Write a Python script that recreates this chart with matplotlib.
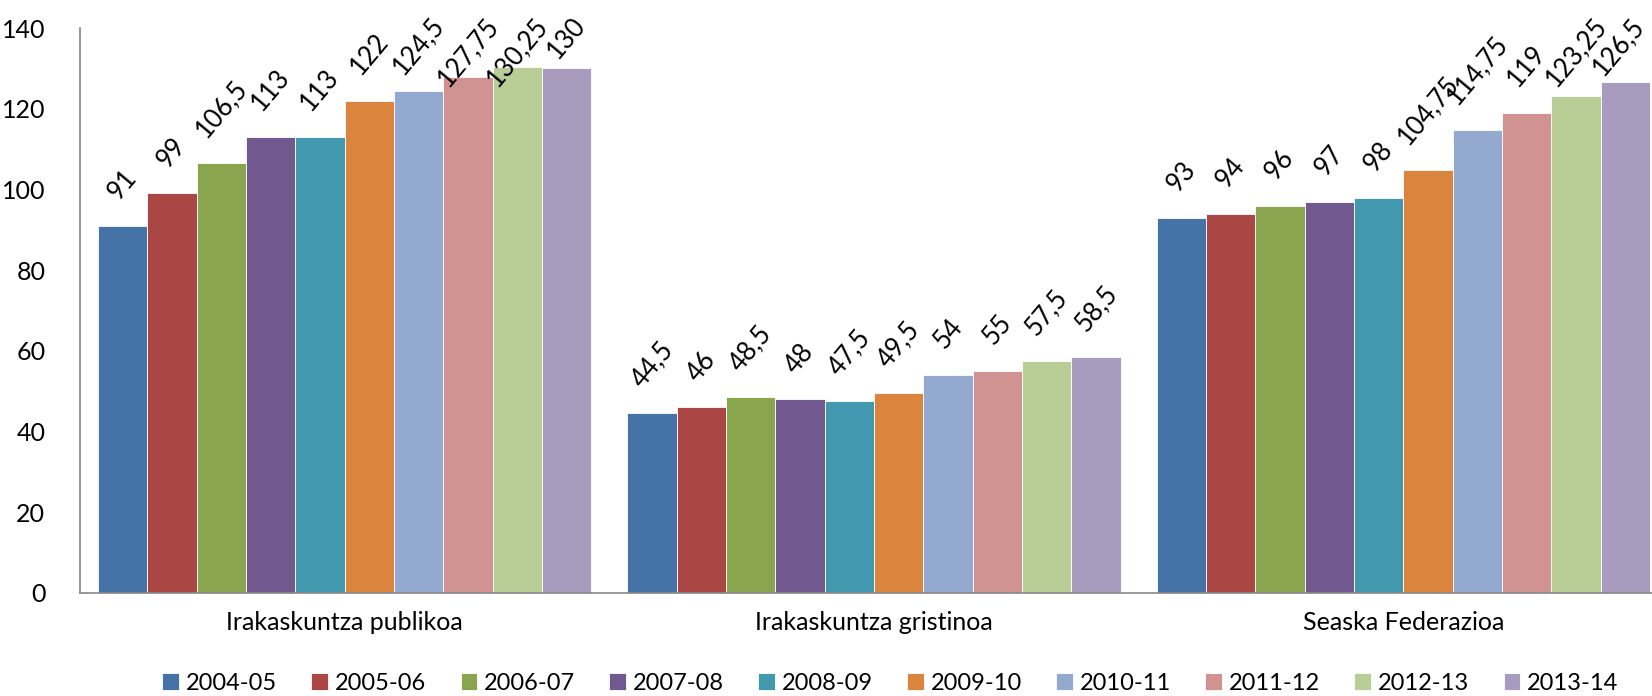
import numpy as np
import matplotlib.pyplot as plt

categories = ["Irakaskuntza publikoa", "Irakaskuntza gristinoa", "Seaska Federazioa"]
years = ["2004-05", "2005-06", "2006-07", "2007-08", "2008-09",
         "2009-10", "2010-11", "2011-12", "2012-13", "2013-14"]
publikoa = [91, 99, 106.5, 113, 113, 122, 124.5, 127.75, 130.25, 130]
gristinoa = [44.5, 46, 48.5, 48, 47.5, 49.5, 54, 55, 57.5, 58.5]
seaska = [93, 94, 96, 97, 98, 104.75, 114.75, 119, 123.25, 126.5]
colors = ["#4572A7", "#AA4643", "#89A54E", "#71588F", "#4198AF",
          "#DB843D", "#93A9CF", "#D19392", "#B9CD96", "#A99BBD"]

values = np.array([publikoa, gristinoa, seaska])  # rows: category, cols: year

plt.rcParams['font.family'] = ['Lato', 'DejaVu Sans']

fig = plt.figure(figsize=(16.52, 6.96), dpi=100)
ax = fig.add_axes([80 / 1652, 1 - 593 / 696, 1588 / 1652, 565 / 696])

x = np.arange(len(categories))
n = len(years)
width = 0.932 / n
offset = 15.5  # points above bar top

labels = []
for i, year in enumerate(years):
    pos = x - 0.466 + width * (i + 0.5)
    bars = ax.bar(pos, values[:, i], width, color=colors[i], label=year,
                  edgecolor="white", linewidth=0.6)
    for b, v in zip(bars, values[:, i]):
        txt = f"{v:g}".replace(".", ",")
        a = ax.annotate(txt, (b.get_x() + b.get_width() / 2, v),
                        xytext=(0, offset), textcoords="offset points",
                        ha="center", va="bottom", rotation=50, fontsize=18.5,
                        annotation_clip=False)
        labels.append(a)

ax.set_xlim(-0.5, 2.5)
ax.set_ylim(0, 140)
ax.set_yticks(range(0, 141, 20))
ax.set_xticks(x)
ax.set_xticklabels(categories, fontsize=18)
ax.tick_params(axis="y", length=0, labelsize=18, pad=25)
ax.tick_params(axis="x", length=0, pad=13)
for s in ["top", "right"]:
    ax.spines[s].set_visible(False)
for s in ["left", "bottom"]:
    ax.spines[s].set_color("#888888")
    ax.spines[s].set_linewidth(1.2)

fig.legend(loc="center", bbox_to_anchor=(0.539, 1 - 683 / 696), ncol=n,
           frameon=False, fontsize=17, handlelength=0.7, handleheight=0.7,
           handletextpad=0.3, columnspacing=1.45)

# keep labels inside the chart, like Excel does
fig.canvas.draw()
r = fig.canvas.get_renderer()
top_limit = fig.bbox.height - 13
right_limit = fig.bbox.width - 3
for a in labels:
    bb = a.get_window_extent(r)
    dx, dy = 0, offset
    if bb.y1 > top_limit:
        dy = offset - (bb.y1 - top_limit) * 72 / fig.dpi
    if bb.x1 > right_limit:
        dx = -(bb.x1 - right_limit) * 72 / fig.dpi
    a.xyann = (dx, dy)

fig.savefig("out.png", dpi=100)
